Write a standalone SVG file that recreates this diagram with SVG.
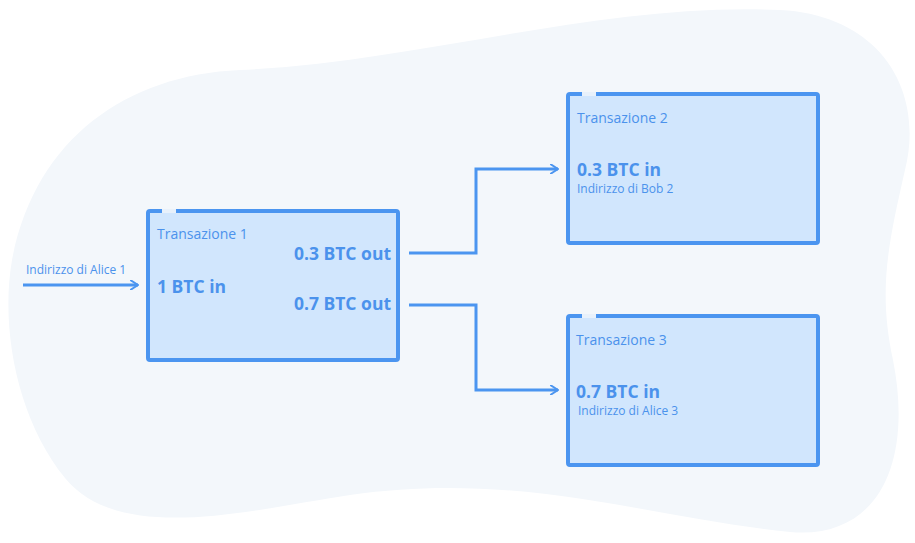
<svg xmlns="http://www.w3.org/2000/svg" width="915" height="543" viewBox="0 0 915 543">
<defs>
<style>
.box{fill:#d1e6fd;stroke:#4b95f0;stroke-width:4;stroke-linejoin:round}
.gap{stroke:#e8f1fb;stroke-width:4}
.t{font-family:"Open Sans","Noto Sans",sans-serif;fill:#4b92ec}
.title{font-size:14px}
.big{font-size:17.5px;font-weight:bold}
.small{font-size:12px}
.conn{fill:none;stroke:#4b95f0;stroke-width:3;stroke-linejoin:miter}
</style>
<marker id="arr" viewBox="0 0 10 10" refX="9" refY="5" markerWidth="10" markerHeight="10" markerUnits="userSpaceOnUse" orient="auto">
<path d="M2,0.5 L9,5 L2,9.5" fill="none" stroke="#4b95f0" stroke-width="2" stroke-linecap="round"/>
</marker>
</defs>
<rect width="915" height="543" fill="#ffffff"/>
<path d="M 240,70 C 420,62 600,2 780,10 C 880,15 925,90 905,170 C 888,245 878,290 893,360 C 913,460 880,540 790,532 C 650,518 520,470 350,495 C 250,510 120,545 65,478 C 18,420 0,330 12,260 C 35,140 125,75 240,70 Z" fill="#f3f7fb"/>
<g id="connectors">
<path class="conn" d="M23,285 H138" marker-end="url(#arr)"/>
<path class="conn" d="M409,253 H476 V169 H558" marker-end="url(#arr)"/>
<path class="conn" d="M409,305 H476 V390 H558" marker-end="url(#arr)"/>
<text class="t small" x="26" y="274">Indirizzo di Alice 1</text>
</g>
<g id="tx1">
<rect class="box" x="148" y="211" width="250" height="149" rx="2"/>
<line class="gap" x1="162" y1="211" x2="176" y2="211"/>
<text class="t title" x="157" y="239">Transazione 1</text>
<text class="t big" x="391" y="260" text-anchor="end">0.3 BTC out</text>
<text class="t big" x="157" y="293">1 BTC in</text>
<text class="t big" x="391" y="310" text-anchor="end">0.7 BTC out</text>
</g>
<g id="tx2">
<rect class="box" x="568" y="94" width="250" height="149" rx="2"/>
<line class="gap" x1="582" y1="94" x2="596" y2="94"/>
<text class="t title" x="577" y="123">Transazione 2</text>
<text class="t big" x="577" y="176">0.3 BTC in</text>
<text class="t small" x="577" y="193">Indirizzo di Bob 2</text>
</g>
<g id="tx3">
<rect class="box" x="568" y="316" width="250" height="149" rx="2"/>
<line class="gap" x1="582" y1="316" x2="596" y2="316"/>
<text class="t title" x="576" y="345">Transazione 3</text>
<text class="t big" x="576" y="398">0.7 BTC in</text>
<text class="t small" x="578" y="415">Indirizzo di Alice 3</text>
</g>
</svg>
